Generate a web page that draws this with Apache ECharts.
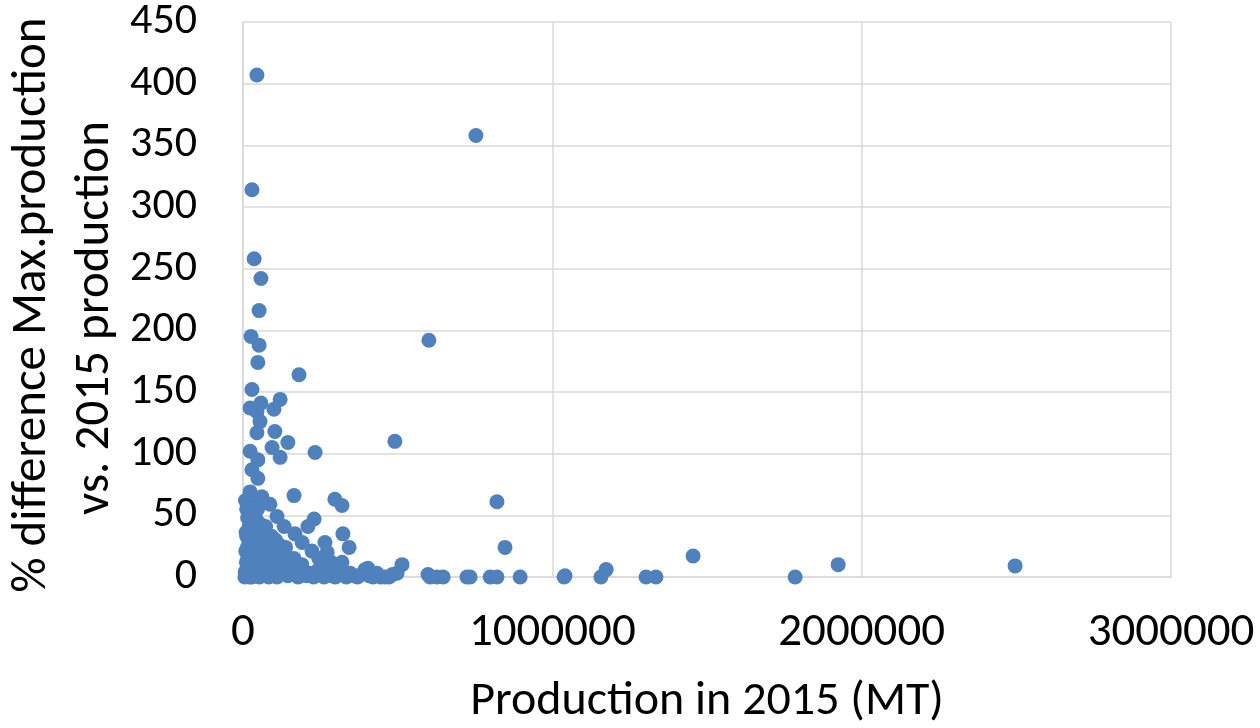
<!DOCTYPE html>
<html>
<head>
<meta charset="utf-8">
<script src="https://cdn.jsdelivr.net/npm/echarts@6/dist/echarts.min.js"></script>
<style>
html,body{margin:0;padding:0;background:#fff;}
#chart{width:1260px;height:728px;}
</style>
</head>
<body>
<div id="chart"></div>
<script>
// Production in 2015 (MT) vs % difference Max.production vs. 2015 production
const outlierPoints = [
  [45000,407],[29000,314],[36000,258],[58000,242],[52000,216],[26000,195],[52000,188],[48000,174],
  [753000,358],[601000,192],[181000,164],[29000,152],[120000,144],[58000,141],[23000,137],[100000,136],
  [45000,134],[55000,126],[45000,117],[103000,118],[145000,109],[491000,110],[23000,102],[94000,105],
  [120000,97],[233000,101],[48000,95],[29000,87],[48000,80],[23000,69],[61000,65],[165000,66],
  [297000,63],[320000,58],[87000,59],[29000,58],[821000,61],[23000,44],[110000,49],[133000,41],
  [230000,47],[210000,41],[323000,35],[168000,35],[191000,28],[265000,28],[343000,24],[223000,21],
  [272000,20],[320000,12],[514000,10],[498000,3],[404000,7],[598000,2]
];
const largeProducers = [
  [847000,24],[1455000,17],[1924000,10],[2496000,9],[1174000,6],[1157000,0],[1038000,0],[1303000,0],
  [1335000,0],[1785000,0],[459000,0],[605000,0],[627000,0],[647000,0],[724000,0],[734000,0],
  [799000,0],[821000,0],[896000,0],[1041000,1]
];
const clusterA = [
  [8000,62],[12000,55],[15000,48],[20000,41],[10000,36],[18000,31],[25000,28],[14000,24],[9000,21],
  [22000,19],[30000,17],[16000,15],[11000,12],[27000,11],[19000,9],[35000,8],[13000,7],[24000,5],
  [7000,4],[32000,3],[17000,2],[38000,1],[6000,0],[21000,0],[29000,0],[12000,33],[26000,44],
  [33000,37],[37000,26],[23000,52]
];
const clusterB = [
  [42000,47],[55000,43],[48000,38],[63000,34],[70000,30],[45000,28],[58000,25],[80000,27],[52000,22],
  [66000,20],[90000,23],[44000,18],[75000,16],[60000,14],[85000,12],[50000,11],[95000,10],[68000,8],
  [41000,7],[78000,6],[57000,5],[88000,4],[46000,3],[72000,2],[62000,1],[98000,1],[53000,0],[83000,0],
  [65000,36],[92000,33],[47000,55],[73000,41],[100000,18],[56000,60]
];
const clusterC = [
  [105000,30],[118000,26],[130000,22],[112000,19],[140000,17],[125000,14],[155000,12],[108000,11],
  [170000,9],[135000,8],[150000,6],[185000,5],[120000,4],[160000,3],[195000,2],[145000,1],[178000,0],
  [110000,0],[128000,7],[165000,15],[190000,10],[138000,24]
];
const clusterD = [
  [205000,1],[215000,3],[228000,0],[240000,5],[252000,2],[262000,0],[275000,4],[286000,1],[298000,0],
  [310000,2],[322000,5],[334000,0],[347000,3],[358000,1],[370000,0],[382000,2],[395000,6],[408000,1],
  [420000,0],[433000,3],[445000,0],[472000,0],[483000,2],[245000,15],[255000,9],[285000,12],[300000,8]
];
const xTicks = [0, 1000000, 2000000, 3000000];
const yTicks = [0, 50, 100, 150, 200, 250, 300, 350, 400, 450];

const allPoints = [].concat(outlierPoints, largeProducers, clusterA, clusterB, clusterC, clusterD);

const FONT = 'Carlito, "Liberation Sans Narrow", "Liberation Sans", sans-serif';
const chart = echarts.init(document.getElementById('chart'), null, {renderer:'canvas'});
const gridColor = '#d9d9d9';
chart.setOption({
  animation: false,
  backgroundColor: '#ffffff',
  grid: {left: 243, right: 89, top: 22, bottom: 151},
  xAxis: {
    type: 'value', min: xTicks[0], max: xTicks[xTicks.length-1], interval: 1000000,
    axisLine: {show: true, lineStyle: {color: gridColor, width: 1.5}},
    axisTick: {show: false},
    splitLine: {show: true, lineStyle: {color: gridColor, width: 1.5}},
    axisLabel: {color: '#000', fontSize: 47, fontFamily: FONT, margin: 33, formatter: v => String(v)}
  },
  yAxis: {
    type: 'value', min: yTicks[0], max: yTicks[yTicks.length-1], interval: 50,
    axisLine: {show: true, lineStyle: {color: gridColor, width: 1.5}},
    axisTick: {show: false},
    splitLine: {show: true, lineStyle: {color: gridColor, width: 1.5}},
    axisLabel: {color: '#000', fontSize: 44, fontFamily: FONT, margin: 46, formatter: v => String(v)}
  },
  series: [{
    type: 'scatter',
    data: allPoints,
    symbol: 'circle',
    symbolSize: 15,
    itemStyle: {color: '#4F81BD', opacity: 1}
  }],
  graphic: [
    {type: 'text', x: 707, y: 702, style: {text: 'Production in 2015 (MT)', fill: '#000', font: '48px ' + FONT, textAlign: 'center', textVerticalAlign: 'middle'}},
    {type: 'text', x: 33, y: 305, rotation: Math.PI/2, style: {text: '% difference Max.production', fill: '#000', font: '49px ' + FONT, textAlign: 'center', textVerticalAlign: 'middle'}},
    {type: 'text', x: 96, y: 318, rotation: Math.PI/2, style: {text: 'vs. 2015 production', fill: '#000', font: '49px ' + FONT, textAlign: 'center', textVerticalAlign: 'middle'}}
  ]
});
</script>
</body>
</html>
